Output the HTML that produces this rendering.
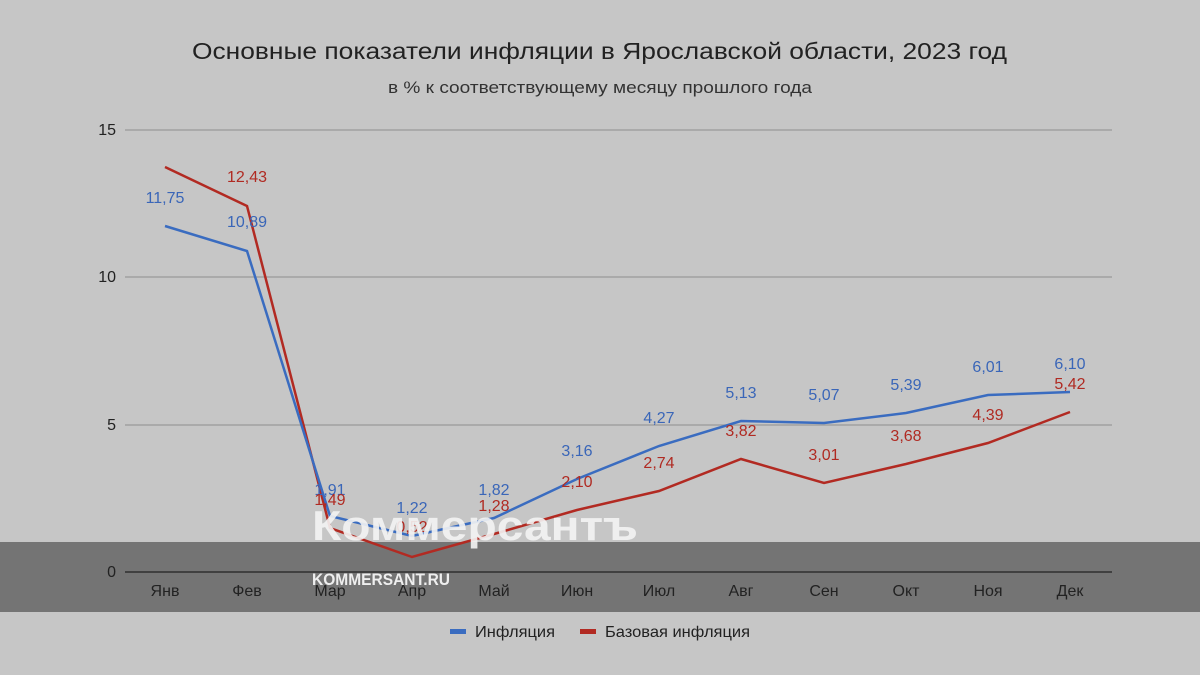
<!DOCTYPE html>
<html><head><meta charset="utf-8"><style>
body{margin:0;background:#c6c6c6;}
svg{display:block;font-family:"Liberation Sans","DejaVu Sans",sans-serif;}
</style></head><body>
<svg width="1200" height="675" viewBox="0 0 1200 675">
<rect width="1200" height="675" fill="#c6c6c6"/>
<rect x="0" y="542" width="1200" height="70" fill="#747474"/>
<text x="192" y="59" font-size="23" fill="#222" textLength="815" lengthAdjust="spacingAndGlyphs">Основные показатели инфляции в Ярославской области, 2023 год</text>
<text x="388" y="93" font-size="17" fill="#333" textLength="424" lengthAdjust="spacingAndGlyphs">в % к соответствующему месяцу прошлого года</text>
<g stroke="#999" stroke-width="1.2">
<line x1="125" y1="130" x2="1112" y2="130"/>
<line x1="125" y1="277" x2="1112" y2="277"/>
<line x1="125" y1="425" x2="1112" y2="425"/>
</g>
<line x1="125" y1="572" x2="1112" y2="572" stroke="#222" stroke-width="1.2"/>
<g font-size="16" fill="#222" text-anchor="end">
<text x="116" y="135">15</text><text x="116" y="282">10</text><text x="116" y="430">5</text><text x="116" y="577">0</text>
</g>
<g font-size="16" fill="#222" text-anchor="middle">
<text x="165" y="596">Янв</text><text x="247" y="596">Фев</text><text x="330" y="596">Мар</text><text x="412" y="596">Апр</text><text x="494" y="596">Май</text><text x="577" y="596">Июн</text><text x="659" y="596">Июл</text><text x="741" y="596">Авг</text><text x="824" y="596">Сен</text><text x="906" y="596">Окт</text><text x="988" y="596">Ноя</text><text x="1070" y="596">Дек</text>
</g>
<polyline fill="none" stroke="#b22a22" stroke-width="2.5" points="165,167 247,206 330,528 412,557 494,534 577,510 659,491 741,459 824,483 906,464 988,443 1070,412"/>
<polyline fill="none" stroke="#3a6cc0" stroke-width="2.5" points="165,226 247,251 330,516 412,536 494,518 577,479 659,446 741,421 824,423 906,413 988,395 1070,392"/>
<g font-size="16" fill="#3a66b8" text-anchor="middle">
<text x="165" y="203">11,75</text><text x="247" y="227">10,89</text><text x="330" y="495">1,91</text><text x="412" y="513">1,22</text><text x="494" y="495">1,82</text><text x="577" y="456">3,16</text><text x="659" y="423">4,27</text><text x="741" y="398">5,13</text><text x="824" y="400">5,07</text><text x="906" y="390">5,39</text><text x="988" y="372">6,01</text><text x="1070" y="369">6,10</text>
</g>
<g font-size="16" fill="#b02a22" text-anchor="middle">
<text x="247" y="182">12,43</text><text x="330" y="505">1,49</text><text x="412" y="532">0,52</text><text x="494" y="511">1,28</text><text x="577" y="487">2,10</text><text x="659" y="468">2,74</text><text x="741" y="436">3,82</text><text x="824" y="460">3,01</text><text x="906" y="441">3,68</text><text x="988" y="420">4,39</text><text x="1070" y="389">5,42</text>
</g>
<text x="312" y="540" font-size="42" font-weight="bold" fill="#f4f4f4" opacity="0.9" textLength="326" lengthAdjust="spacingAndGlyphs">Коммерсантъ</text>
<text x="312" y="585" font-size="17" font-weight="bold" fill="#eee" textLength="138" lengthAdjust="spacingAndGlyphs">KOMMERSANT.RU</text>
<rect x="450" y="629" width="16" height="5" fill="#3a6cc0"/>
<text x="475" y="637" font-size="16" fill="#222" textLength="80" lengthAdjust="spacingAndGlyphs">Инфляция</text>
<rect x="580" y="629" width="16" height="5" fill="#b22a22"/>
<text x="605" y="637" font-size="16" fill="#222" textLength="145" lengthAdjust="spacingAndGlyphs">Базовая инфляция</text>
</svg>
</body></html>
